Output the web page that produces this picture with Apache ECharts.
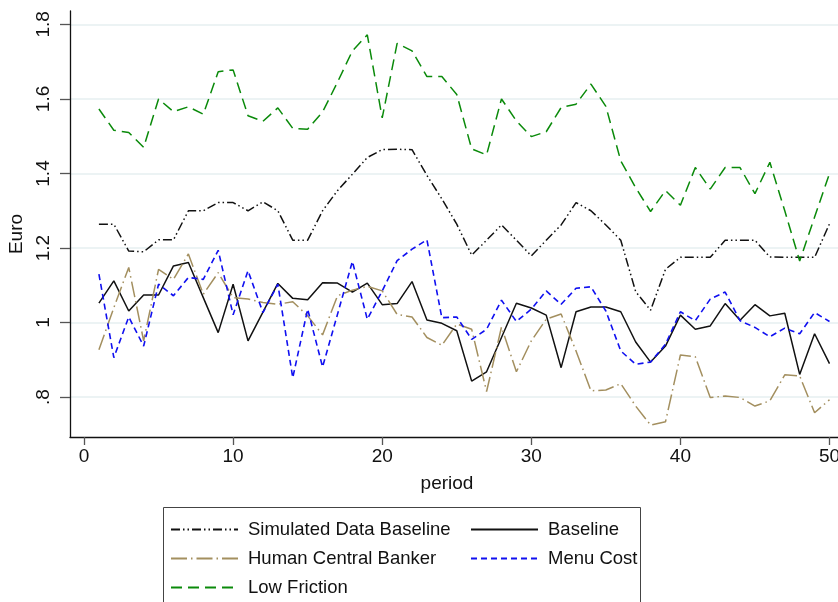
<!DOCTYPE html>
<html>
<head>
<meta charset="utf-8">
<script src="https://cdn.jsdelivr.net/npm/echarts@6/dist/echarts.min.js"></script>
<style>
  html, body { margin: 0; padding: 0; background: #ffffff; }
  #chart { width: 838px; height: 602px; }
</style>
</head>
<body>
<div id="chart"></div>
<script>
// Periods 1..50
const periods = Array.from({ length: 50 }, (_, i) => i + 1);

const xTicks = [0, 10, 20, 30, 40, 50];
const yTicks = [0.8, 1.0, 1.2, 1.4, 1.6, 1.8];

const simulatedBaseline = [
  1.264, 1.264, 1.192, 1.190, 1.222, 1.222, 1.300, 1.300, 1.322, 1.322,
  1.300, 1.324, 1.300, 1.221, 1.221, 1.300, 1.354, 1.398, 1.443, 1.464,
  1.465, 1.464, 1.395, 1.332, 1.264, 1.181, 1.221, 1.262, 1.221, 1.179,
  1.221, 1.262, 1.322, 1.300, 1.262, 1.221, 1.083, 1.033, 1.143, 1.175,
  1.175, 1.175, 1.221, 1.221, 1.221, 1.176, 1.175, 1.175, 1.175, 1.265
];

const baseline = [
  1.052, 1.112, 1.031, 1.074, 1.074, 1.152, 1.161, 1.067, 0.973, 1.103,
  0.951, 1.028, 1.105, 1.065, 1.061, 1.107, 1.106, 1.082, 1.106, 1.048,
  1.051, 1.110, 1.007, 0.998, 0.978, 0.843, 0.868, 0.960, 1.052, 1.039,
  1.020, 0.879, 1.029, 1.042, 1.042, 1.029, 0.948, 0.894, 0.937, 1.020,
  0.982, 0.991, 1.051, 1.006, 1.048, 1.018, 1.025, 0.861, 0.970, 0.890
];

const humanCentralBanker = [
  0.927, 1.040, 1.148, 0.951, 1.143, 1.116, 1.184, 1.076, 1.134, 1.067,
  1.063, 1.054, 1.049, 1.056, 1.018, 0.967, 1.072, 1.087, 1.097, 1.085,
  1.022, 1.015, 0.960, 0.939, 0.996, 0.982, 0.815, 0.988, 0.868, 0.951,
  1.009, 1.023, 0.924, 0.817, 0.819, 0.836, 0.776, 0.725, 0.734, 0.913,
  0.908, 0.799, 0.803, 0.799, 0.776, 0.790, 0.860, 0.857, 0.758, 0.793
];

const menuCost = [
  1.130, 0.906, 1.015, 0.937, 1.103, 1.072, 1.121, 1.116, 1.194, 1.021,
  1.139, 1.027, 1.103, 0.852, 1.036, 0.881, 1.022, 1.164, 1.009, 1.085,
  1.166, 1.197, 1.222, 1.013, 1.015, 0.955, 0.982, 1.060, 1.003, 1.036,
  1.085, 1.049, 1.092, 1.096, 1.031, 0.924, 0.888, 0.894, 0.942, 1.029,
  1.005, 1.063, 1.082, 1.005, 0.987, 0.962, 0.985, 0.970, 1.027, 1.003
];

const lowFriction = [
  1.573, 1.516, 1.510, 1.470, 1.600, 1.566, 1.579, 1.559, 1.673, 1.678,
  1.555, 1.540, 1.576, 1.521, 1.519, 1.565, 1.645, 1.729, 1.772, 1.549,
  1.749, 1.729, 1.660, 1.660, 1.612, 1.466, 1.450, 1.600, 1.541, 1.499,
  1.512, 1.577, 1.586, 1.640, 1.580, 1.434, 1.362, 1.298, 1.354, 1.315,
  1.416, 1.358, 1.416, 1.416, 1.346, 1.430, 1.300, 1.165, 1.283, 1.400
];

function pairs(values) {
  return periods.map((p, i) => [p, values[i]]);
}

function lineSeries(name, values, color, dash, width) {
  return {
    name: name,
    type: 'line',
    data: pairs(values),
    showSymbol: false,
    symbol: 'none',
    animation: false,
    lineStyle: { color: color, width: width, type: dash },
    itemStyle: { color: color }
  };
}

const FONT = '"Liberation Sans", Arial, sans-serif';

const legendCommon = {
  orient: 'vertical',
  top: 520,
  height: 140,
  padding: 0,
  itemWidth: 67,
  itemHeight: 14,
  itemGap: 10,
  itemStyle: { opacity: 0 },
  textStyle: { fontFamily: FONT, fontSize: 18.5, lineHeight: 14, color: '#111', padding: [0, 0, 0, 5] }
};

const chart = echarts.init(document.getElementById('chart'), null, { renderer: 'canvas' });

chart.setOption({
  backgroundColor: '#ffffff',
  animation: false,
  grid: { left: 70, right: 0, top: 11, bottom: 165, containLabel: false, outerBoundsMode: 'none' },
  xAxis: {
    type: 'value',
    min: -0.94,
    max: 50.57,
    name: 'period',
    nameLocation: 'middle',
    nameGap: 37,
    nameTextStyle: { fontFamily: FONT, fontSize: 19, color: '#111', padding: [0, 14, 0, 0] },
    axisLine: { show: true, onZero: false, lineStyle: { color: '#111', width: 1.3 } },
    axisTick: { show: true, length: 8, customValues: xTicks, lineStyle: { color: '#555', width: 1.3 } },
    axisLabel: { customValues: xTicks, margin: 10, fontFamily: FONT, fontSize: 19, color: '#111' },
    splitLine: { show: false }
  },
  yAxis: {
    type: 'value',
    min: 0.693,
    max: 1.836,
    name: 'Euro',
    nameLocation: 'middle',
    nameGap: 33,
    nameRotate: 90,
    nameTextStyle: { fontFamily: FONT, fontSize: 19, color: '#111', padding: [0, 20, 0, 0] },
    axisLine: { show: true, onZero: false, lineStyle: { color: '#111', width: 1.3 } },
    axisTick: { show: true, length: 10, customValues: yTicks, lineStyle: { color: '#555', width: 1.3 } },
    axisLabel: {
      customValues: yTicks,
      rotate: 90,
      margin: 17,
      fontFamily: FONT,
      fontSize: 19,
      color: '#111',
      formatter: function (v) {
        const r = Math.round(v * 10) / 10;
        if (r === 1) return '1';
        if (r < 1) return '.' + Math.round(r * 10);
        return r.toFixed(1);
      }
    },
    splitLine: { show: true, lineStyle: { color: '#e6eff1', width: 1.6 } }
  },
  legend: [
    Object.assign({}, legendCommon, {
      left: 170,
      data: ['Simulated Data Baseline', 'Human Central Banker', 'Low Friction']
    }),
    Object.assign({}, legendCommon, {
      left: 470,
      data: ['Baseline', 'Menu Cost']
    })
  ],
  graphic: [
    {
      type: 'rect',
      silent: true,
      shape: { x: 163.5, y: 507.5, width: 477, height: 120 },
      style: { fill: 'none', stroke: '#444', lineWidth: 1 }
    }
  ],
  series: [
    lineSeries('Simulated Data Baseline', simulatedBaseline, '#111111', [9, 3, 1.5, 3, 1.5, 3], 1.5),
    lineSeries('Baseline', baseline, '#111111', 'solid', 1.5),
    lineSeries('Human Central Banker', humanCentralBanker, '#a38f5f', [16, 4, 1.5, 4], 1.5),
    lineSeries('Menu Cost', menuCost, '#1010f0', [6, 4], 1.6),
    lineSeries('Low Friction', lowFriction, '#0a8a0a', [11, 6], 1.5)
  ]
});
</script>
</body>
</html>
